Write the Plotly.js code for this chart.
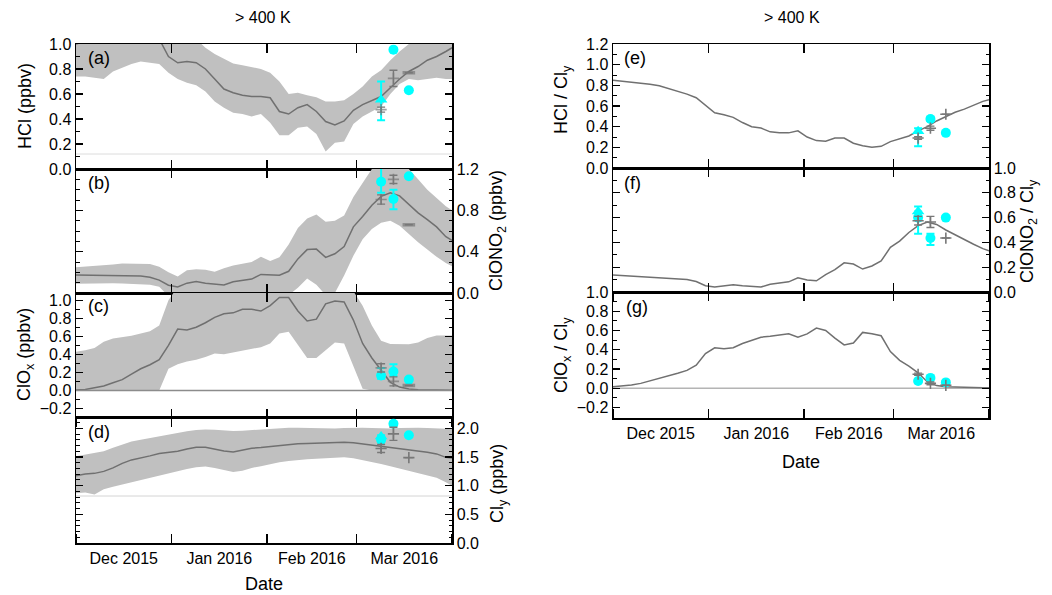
<!DOCTYPE html>
<html>
<head>
<meta charset="utf-8">
<script src="https://cdn.plot.ly/plotly-3.0.1.min.js"></script>
<style>
  html, body { margin: 0; padding: 0; background: #fff; }
  #chart { width: 1052px; height: 595px; }
</style>
</head>
<body>
<div id="chart"></div>
<script>
// ---- Model output, sampled every 3 days from 1 Dec 2015 to 1 Apr 2016 ----
const modelDates = [
  '2015-12-01','2015-12-04','2015-12-07','2015-12-10','2015-12-13','2015-12-16','2015-12-19',
  '2015-12-22','2015-12-25','2015-12-28','2015-12-31','2016-01-03','2016-01-06','2016-01-09',
  '2016-01-12','2016-01-15','2016-01-18','2016-01-21','2016-01-24','2016-01-27','2016-01-30',
  '2016-02-02','2016-02-05','2016-02-08','2016-02-11','2016-02-14','2016-02-17','2016-02-20',
  '2016-02-23','2016-02-26','2016-02-29','2016-03-03','2016-03-06','2016-03-09','2016-03-12',
  '2016-03-15','2016-03-18','2016-03-21','2016-03-24','2016-03-27','2016-03-30','2016-04-01'
];

// HCl (ppbv): mean and spread
const hcl = [1.00,1.02,1.03,1.05,1.08,1.10,1.11,1.10,1.10,1.04, 0.90,0.85,0.86,0.85,0.80,0.72,0.64,0.61,0.59,0.58,
             0.58,0.57,0.46,0.44,0.49,0.515,0.46,0.38,0.352,0.385, 0.47,0.515,0.55,0.58,0.65,0.72,0.78,0.82,0.87,0.90,
             0.94,0.97];
const hclLow = [0.74,0.74,0.73,0.72,0.78,0.81,0.84,0.86,0.85,0.84, 0.77,0.72,0.69,0.67,0.62,0.54,0.49,0.45,0.44,0.42,
                0.44,0.37,0.27,0.27,0.33,0.34,0.28,0.14,0.21,0.22, 0.36,0.42,0.46,0.50,0.60,0.68,0.72,0.71,0.72,0.73,
                0.72,0.72];
const hclHigh = [1.26,1.28,1.30,1.32,1.35,1.37,1.38,1.36,1.35,1.28, 1.15,1.10,1.10,1.04,0.97,0.92,0.88,0.845,0.83,0.815,
                 0.80,0.77,0.70,0.60,0.61,0.59,0.575,0.54,0.54,0.55, 0.60,0.66,0.74,0.79,0.87,0.94,1.00,1.06,1.10,1.14,
                 1.17,1.20];

// ClONO2 (ppbv)
const clono2 = [0.174,0.172,0.172,0.170,0.170,0.168,0.168,0.165,0.152,0.125, 0.075,0.058,0.095,0.110,0.095,0.083,0.078,0.108,0.120,0.135,
                0.180,0.174,0.172,0.210,0.330,0.420,0.425,0.345,0.380,0.450, 0.640,0.740,0.850,0.935,0.970,0.940,0.855,0.775,0.710,0.640,
                0.545,0.510];
const clono2Low = [0.090,0.092,0.095,0.095,0.095,0.093,0.090,0.088,0.080,0.060, -0.03,-0.06,-0.04,-0.02,-0.03,-0.04,-0.05,-0.03,-0.02,-0.01,
                   -0.01,-0.02,-0.03,-0.02,0.05,0.14,0.08,-0.02,0.00,0.17, 0.36,0.52,0.62,0.68,0.70,0.65,0.57,0.49,0.42,0.35,
                   0.29,0.26];
const clono2High = [0.250,0.255,0.260,0.270,0.275,0.285,0.285,0.280,0.280,0.255, 0.200,0.160,0.220,0.230,0.225,0.205,0.240,0.265,0.285,0.300,
                    0.350,0.310,0.345,0.470,0.630,0.720,0.760,0.690,0.700,0.750, 0.930,1.070,1.200,1.250,1.300,1.270,1.200,1.100,1.000,0.920,
                    0.840,0.800];

// ClOx (ppbv)
const clox = [0.005,0.010,0.030,0.050,0.085,0.120,0.180,0.240,0.285,0.340, 0.500,0.680,0.670,0.700,0.750,0.810,0.850,0.860,0.900,0.900,
              0.880,0.940,1.030,1.030,0.880,0.770,0.790,0.960,0.990,0.980, 0.780,0.520,0.360,0.220,0.090,0.037,0.015,0.008,0.005,0.003,
              0.002,0.002];
const cloxLow = [0,0,0,0,0,0,0,0,0,0, 0.24,0.29,0.32,0.34,0.37,0.41,0.40,0.42,0.445,0.46,
                 0.48,0.52,0.63,0.65,0.50,0.36,0.36,0.45,0.53,0.52, 0.27,0.02,0,0,0,0,0,0,0,0,
                 0,0];
const cloxHigh = [0.43,0.445,0.47,0.54,0.575,0.59,0.605,0.63,0.655,0.72, 1.00,1.15,1.12,1.15,1.20,1.25,1.30,1.30,1.33,1.33,
                  1.30,1.35,1.42,1.42,1.30,1.20,1.20,1.38,1.42,1.40, 1.10,0.94,0.72,0.55,0.515,0.513,0.513,0.53,0.58,0.61,
                  0.61,0.61];

// Cly (ppbv)
const cly = [1.175,1.205,1.215,1.25,1.31,1.39,1.45,1.48,1.52,1.56, 1.585,1.60,1.64,1.67,1.67,1.64,1.605,1.59,1.625,1.655,
             1.665,1.68,1.705,1.72,1.73,1.735,1.74,1.745,1.755,1.76, 1.75,1.73,1.71,1.69,1.67,1.645,1.62,1.605,1.585,1.555,
             1.495,1.485];
const clyLow = [0.87,0.88,0.845,0.94,0.98,1.02,1.06,1.10,1.14,1.18, 1.22,1.26,1.29,1.32,1.335,1.31,1.27,1.24,1.26,1.31,
                1.34,1.38,1.41,1.43,1.45,1.46,1.468,1.475,1.485,1.495, 1.48,1.45,1.41,1.38,1.34,1.30,1.26,1.23,1.19,1.14,
                1.06,1.00];
const clyHigh = [1.515,1.54,1.57,1.60,1.66,1.72,1.77,1.80,1.83,1.87, 1.90,1.93,1.95,1.97,1.98,1.975,1.965,1.955,1.96,1.97,
                 1.985,1.995,2.005,2.01,2.01,2.005,2.00,1.995,2.00,2.005, 2.01,2.01,2.005,2.00,2.00,2.005,2.01,2.01,2.005,1.995,
                 1.995,1.995];

// Partitioning ratios
const hclRatio = [0.85,0.84,0.835,0.825,0.81,0.795,0.77,0.74,0.715,0.68, 0.61,0.535,0.515,0.49,0.44,0.40,0.387,0.35,0.34,0.34,
                  0.36,0.30,0.265,0.26,0.29,0.29,0.24,0.215,0.20,0.21, 0.255,0.285,0.31,0.36,0.40,0.455,0.50,0.54,0.57,0.61,
                  0.645,0.66];
const clono2Ratio = [0.137,0.133,0.129,0.126,0.122,0.115,0.108,0.105,0.100,0.085, 0.050,0.040,0.050,0.058,0.050,0.043,0.040,0.062,0.070,0.082,
                     0.115,0.097,0.090,0.140,0.180,0.235,0.225,0.185,0.210,0.250, 0.360,0.410,0.480,0.535,0.565,0.545,0.500,0.460,0.420,0.385,
                     0.350,0.333];
const cloxRatio = [0.014,0.020,0.033,0.050,0.075,0.100,0.130,0.155,0.185,0.240, 0.360,0.420,0.410,0.420,0.465,0.500,0.530,0.540,0.555,0.566,
                   0.530,0.565,0.625,0.600,0.520,0.450,0.470,0.580,0.566,0.545, 0.380,0.290,0.230,0.160,0.065,0.027,0.015,0.010,0.008,0.006,
                   0.005,0.005];

// Reference levels drawn as thin light lines
const hclRefLevel = 0.12;
const clyRefLevel = 0.82;

// ---- Measurements (cyan) and model sampled at the measurements (grey) ----
const obsDates = ['2016-03-09', '2016-03-13', '2016-03-18'];
const triDate = ['2016-03-09'];

const hclObs = [null, 0.955, 0.63],  hclObsPlus = [0, 0, 0],        hclObsMinus = [0, 0, 0];
const hclTri = [0.555],              hclTriPlus = [0.145],          hclTriMinus = [0.165];
const hclMod = [0.475, 0.725, 0.77], hclModErr = [0.02, 0.065, 0];

const clono2Obs = [1.077, 0.91, 1.13], clono2ObsPlus = [0.163, 0.09, 0], clono2ObsMinus = [0.107, 0.10, 0];
const clono2Tri = [null],              clono2TriPlus = [0],              clono2TriMinus = [0];
const clono2Mod = [0.905, 1.10, 0.66], clono2ModErr = [0.045, 0.04, 0];

const cloxObs = [0.165, 0.21, 0.12], cloxObsPlus = [0.085, 0.08, 0], cloxObsMinus = [0.035, 0.05, 0];
const cloxTri = [null],              cloxTriPlus = [0],              cloxTriMinus = [0];
const cloxMod = [0.25, 0.10, 0.055], cloxModErr = [0.045, 0.05, 0];

const clyObs = [1.80, 2.08, 1.88],  clyObsPlus = [0.04, 0.03, 0], clyObsMinus = [0.04, 0.03, 0];
const clyTri = [1.86],              clyTriPlus = [0.02],          clyTriMinus = [0.02];
const clyMod = [1.65, 1.905, 1.49], clyModErr = [0.07, 0.115, 0];

const hclRatioObs = [null, 0.475, 0.34], hclRatioObsPlus = [0, 0.02, 0], hclRatioObsMinus = [0, 0.02, 0];
const hclRatioTri = [0.355],             hclRatioTriPlus = [0.03],       hclRatioTriMinus = [0.145];
const hclRatioMod = [0.29, 0.385, 0.52], hclRatioModErr = [0.012, 0.02, null];

const clono2RatioObs = [0.60, 0.435, 0.60], clono2RatioObsPlus = [0.09, 0.035, 0], clono2RatioObsMinus = [0.13, 0.055, 0];
const clono2RatioTri = [0.65],              clono2RatioTriPlus = [0],              clono2RatioTriMinus = [0];
const clono2RatioMod = [0.575, 0.565, 0.435], clono2RatioModErr = [0.035, 0.045, null];

const cloxRatioObs = [0.075, 0.107, 0.06], cloxRatioObsPlus = [0.015, 0.01, 0], cloxRatioObsMinus = [0.015, 0.01, 0];
const cloxRatioTri = [null],               cloxRatioTriPlus = [0],              cloxRatioTriMinus = [0];
const cloxRatioMod = [0.145, 0.05, 0.03],  cloxRatioModErr = [0.012, 0.015, null];

// ---- Styling ----
const FONT = 'Liberation Sans, Arial, Helvetica, sans-serif';
const BAND = '#c0c0c0';
const MODEL = '#707070';
const CYAN = '#00ffff';
const GREY = '#787878';
const X_RANGE = ['2015-12-01', '2016-04-01'];

const W = 1052, H = 595;
const px = v => v / W;
const py = v => 1 - v / H;

// grey model-at-measurement markers: crosses, the last one a short bar in the ppbv panels
const crossMarker = { symbol: 'cross-thin', size: 8, color: GREY, line: { color: GREY, width: 1.6 } };
const barMarker = { symbol: ['cross-thin', 'cross-thin', 'line-ew'], size: [8, 8, 9], color: GREY,
                    line: { color: GREY, width: [1.6, 1.6, 3.5] } };

function bandTraces(xa, ya, lo, hi) {
  return [
    { x: modelDates, y: lo, xaxis: xa, yaxis: ya, mode: 'lines', line: { width: 0, color: BAND }, hoverinfo: 'skip' },
    { x: modelDates, y: hi, xaxis: xa, yaxis: ya, mode: 'lines', line: { width: 0, color: BAND },
      fill: 'tonexty', fillcolor: BAND, hoverinfo: 'skip' }
  ];
}
function lineTrace(xa, ya, mid) {
  return { x: modelDates, y: mid, xaxis: xa, yaxis: ya, mode: 'lines', line: { color: MODEL, width: 1.5 } };
}
function obsTraces(xa, ya, o, greyMarker) {
  return [
    { x: obsDates, y: o.obs, xaxis: xa, yaxis: ya, mode: 'markers', cliponaxis: false,
      marker: { symbol: 'circle', size: 10, color: CYAN },
      error_y: { type: 'data', symmetric: false, array: o.plus, arrayminus: o.minus, color: CYAN, thickness: 2, width: 4 } },
    { x: triDate, y: o.tri, xaxis: xa, yaxis: ya, mode: 'markers', cliponaxis: false,
      marker: { symbol: 'triangle-up', size: 11, color: CYAN },
      error_y: { type: 'data', symmetric: false, array: o.triPlus, arrayminus: o.triMinus, color: CYAN, thickness: 2, width: 4 } },
    { x: obsDates, y: o.mod, xaxis: xa, yaxis: ya, mode: 'markers', cliponaxis: false,
      marker: greyMarker || crossMarker,
      error_y: { type: 'data', array: o.err, color: GREY, thickness: 1.4, width: 4 } }
  ];
}

const traces = [].concat(
  bandTraces('x', 'y', hclLow, hclHigh), [lineTrace('x', 'y', hcl)],
  obsTraces('x', 'y', { obs: hclObs, plus: hclObsPlus, minus: hclObsMinus, tri: hclTri, triPlus: hclTriPlus, triMinus: hclTriMinus, mod: hclMod, err: hclModErr }, barMarker),

  bandTraces('x2', 'y2', clono2Low, clono2High), [lineTrace('x2', 'y2', clono2)],
  obsTraces('x2', 'y2', { obs: clono2Obs, plus: clono2ObsPlus, minus: clono2ObsMinus, tri: clono2Tri, triPlus: clono2TriPlus, triMinus: clono2TriMinus, mod: clono2Mod, err: clono2ModErr }, barMarker),

  bandTraces('x3', 'y3', cloxLow, cloxHigh), [lineTrace('x3', 'y3', clox)],
  obsTraces('x3', 'y3', { obs: cloxObs, plus: cloxObsPlus, minus: cloxObsMinus, tri: cloxTri, triPlus: cloxTriPlus, triMinus: cloxTriMinus, mod: cloxMod, err: cloxModErr }, barMarker),

  bandTraces('x4', 'y4', clyLow, clyHigh), [lineTrace('x4', 'y4', cly)],
  obsTraces('x4', 'y4', { obs: clyObs, plus: clyObsPlus, minus: clyObsMinus, tri: clyTri, triPlus: clyTriPlus, triMinus: clyTriMinus, mod: clyMod, err: clyModErr }),

  [lineTrace('x5', 'y5', hclRatio)],
  obsTraces('x5', 'y5', { obs: hclRatioObs, plus: hclRatioObsPlus, minus: hclRatioObsMinus, tri: hclRatioTri, triPlus: hclRatioTriPlus, triMinus: hclRatioTriMinus, mod: hclRatioMod, err: hclRatioModErr }),

  [lineTrace('x6', 'y6', clono2Ratio)],
  obsTraces('x6', 'y6', { obs: clono2RatioObs, plus: clono2RatioObsPlus, minus: clono2RatioObsMinus, tri: clono2RatioTri, triPlus: clono2RatioTriPlus, triMinus: clono2RatioTriMinus, mod: clono2RatioMod, err: clono2RatioModErr }),

  [lineTrace('x7', 'y7', cloxRatio)],
  obsTraces('x7', 'y7', { obs: cloxRatioObs, plus: cloxRatioObsPlus, minus: cloxRatioObsMinus, tri: cloxRatioTri, triPlus: cloxRatioTriPlus, triMinus: cloxRatioTriMinus, mod: cloxRatioMod, err: cloxRatioModErr })
);

// ---- Axes ----
const xLeft = [px(76), px(452)];
const xRight = [px(613), px(989)];

function xAxis(domain, anchor, extra) {
  return Object.assign({
    type: 'date', domain: domain, anchor: anchor, range: X_RANGE,
    tickmode: 'linear', tick0: '2015-12-01', dtick: 'M1',
    ticks: 'inside', ticklen: 9, tickwidth: 1.3, tickcolor: '#000',
    showline: true, linecolor: '#000', linewidth: 1.5, mirror: 'ticks',
    showgrid: false, zeroline: false, showticklabels: false
  }, extra || {});
}
// bottom axis of each column carries the month labels, centred in each month
const labelledAxis = {
  showticklabels: true, ticklabelmode: 'period', tickformat: '%b %Y',
  tickfont: { size: 16, color: '#000' }
};
// extra overlay that adds the downward tick marks under each column
function outsideTicks(base, anchor) {
  return {
    type: 'date', overlaying: base, anchor: anchor, side: 'bottom', range: X_RANGE,
    tickmode: 'linear', tick0: '2015-12-01', dtick: 'M1',
    ticks: 'outside', ticklen: 8, tickwidth: 1.3, tickcolor: '#000',
    showline: false, showgrid: false, zeroline: false, showticklabels: false
  };
}
function yAxis(domain, anchor, range, dtick, side) {
  const right = side === 'right';
  return {
    domain: domain, anchor: anchor, range: range, side: right ? 'right' : 'left',
    tickmode: 'linear', tick0: 0, dtick: dtick, tickformat: '.1f',
    ticks: 'inside', ticklen: 7, tickwidth: 1.3, tickcolor: '#000',
    minor: { ticks: 'inside', ticklen: 3.5, dtick: 0.1, tickwidth: 1, tickcolor: '#000', showgrid: false },
    showline: true, linecolor: '#000', linewidth: 1.5, mirror: 'ticks',
    showgrid: false, zeroline: false, tickfont: { size: 16, color: '#000' }
  };
}

const dA = [py(169), py(44)], dB = [py(293), py(169)], dC = [py(417.5), py(293)], dD = [py(543), py(417.5)];
const dE = [py(168), py(44)], dF = [py(292), py(168)], dG = [py(418), py(292)];

function ann(x, y, text, opts) {
  return Object.assign({ xref: 'paper', yref: 'paper', x: px(x), y: py(y), text: text, showarrow: false,
    xanchor: 'center', yanchor: 'middle', font: { family: FONT, size: 18, color: '#000' } }, opts || {});
}

const layout = {
  width: W, height: H,
  margin: { l: 0, r: 0, t: 0, b: 0, pad: 0 },
  paper_bgcolor: '#fff', plot_bgcolor: '#fff',
  showlegend: false,
  font: { family: FONT, size: 16, color: '#000' },

  xaxis:  xAxis(xLeft, 'y'),
  xaxis2: xAxis(xLeft, 'y2'),
  xaxis3: xAxis(xLeft, 'y3'),
  xaxis4: xAxis(xLeft, 'y4', labelledAxis),
  xaxis5: xAxis(xRight, 'y5'),
  xaxis6: xAxis(xRight, 'y6'),
  xaxis7: xAxis(xRight, 'y7', labelledAxis),
  xaxis8: outsideTicks('x4', 'y4'),
  xaxis9: outsideTicks('x7', 'y7'),

  yaxis:  yAxis(dA, 'x', [0, 1.0], 0.2),
  yaxis2: yAxis(dB, 'x2', [0, 1.2], 0.4, 'right'),
  yaxis3: yAxis(dC, 'x3', [-0.3, 1.08], 0.2),
  yaxis4: yAxis(dD, 'x4', [0, 2.19], 0.5, 'right'),
  yaxis5: yAxis(dE, 'x5', [0, 1.2], 0.2),
  yaxis6: yAxis(dF, 'x6', [0, 1.0], 0.2, 'right'),
  yaxis7: yAxis(dG, 'x7', [-0.31, 1.0], 0.2),

  shapes: [
    { type: 'line', xref: 'x domain', yref: 'y', x0: 0, x1: 1, y0: hclRefLevel, y1: hclRefLevel,
      line: { color: '#dcdcdc', width: 1 }, layer: 'below' },
    { type: 'line', xref: 'x4 domain', yref: 'y4', x0: 0, x1: 1, y0: clyRefLevel, y1: clyRefLevel,
      line: { color: '#d4d4d4', width: 1 }, layer: 'below' },
    { type: 'line', xref: 'x3 domain', yref: 'y3', x0: 0, x1: 1, y0: 0, y1: 0,
      line: { color: '#8c8c8c', width: 1.5 }, layer: 'above' },
    { type: 'line', xref: 'x7 domain', yref: 'y7', x0: 0, x1: 1, y0: 0, y1: 0,
      line: { color: '#b4b4b4', width: 1.5 }, layer: 'below' }
  ],

  annotations: [
    ann(263, 17, '&gt; 400 K', { font: { family: FONT, size: 16, color: '#000' } }),
    ann(792, 17, '&gt; 400 K', { font: { family: FONT, size: 16, color: '#000' } }),
    ann(264, 584, 'Date'),
    ann(801, 462, 'Date'),

    ann(25, 106, 'HCl (ppbv)', { textangle: -90 }),
    ann(498, 231, 'ClONO<sub>2</sub> (ppbv)', { textangle: -90 }),
    ann(25, 355, 'ClO<sub>x</sub> (ppbv)', { textangle: -90 }),
    ann(498, 484, 'Cl<sub>y</sub> (ppbv)', { textangle: -90 }),
    ann(562, 100, 'HCl / Cl<sub>y</sub>', { textangle: -90 }),
    ann(1029, 231, 'ClONO<sub>2</sub> / Cl<sub>y</sub>', { textangle: -90 }),
    ann(562, 355, 'ClO<sub>x</sub> / Cl<sub>y</sub>', { textangle: -90 }),

    ann(86, 58, '(a)', { xanchor: 'left' }),
    ann(86, 183, '(b)', { xanchor: 'left' }),
    ann(86, 306, '(c)', { xanchor: 'left' }),
    ann(86, 432, '(d)', { xanchor: 'left' }),
    ann(622, 58, '(e)', { xanchor: 'left' }),
    ann(622, 183, '(f)', { xanchor: 'left' }),
    ann(624, 307, '(g)', { xanchor: 'left' })
  ]
};

Plotly.newPlot('chart', traces, layout, { staticPlot: true, displayModeBar: false });
</script>
</body>
</html>
